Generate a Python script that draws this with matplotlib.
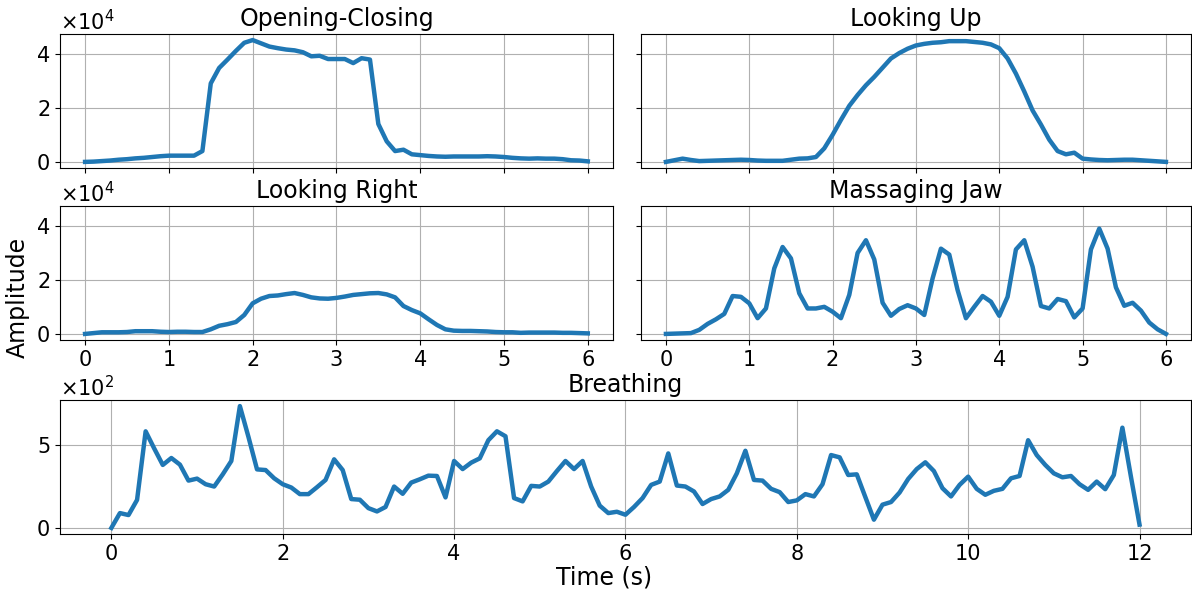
import numpy as np
import matplotlib
matplotlib.use("Agg")
import matplotlib.pyplot as plt

# sampled signals, 10 samples per second
t_short = np.linspace(0, 6, 61)
t_long = np.linspace(0, 12, 121)

# amplitudes in units of 1e4
opening_closing = [
    0.00, 0.01, 0.03, 0.05, 0.08, 0.10, 0.13, 0.15, 0.18, 0.21,
    0.23, 0.23, 0.23, 0.23, 0.40, 2.90, 3.47, 3.78, 4.10, 4.40,
    4.50, 4.38, 4.26, 4.20, 4.15, 4.12, 4.05, 3.90, 3.92, 3.80,
    3.80, 3.80, 3.65, 3.83, 3.78, 1.40, 0.76, 0.40, 0.45, 0.28,
    0.25, 0.22, 0.20, 0.19, 0.20, 0.20, 0.20, 0.20, 0.21, 0.20,
    0.18, 0.15, 0.13, 0.12, 0.13, 0.12, 0.12, 0.10, 0.06, 0.05,
    0.02,
]
looking_up = [
    0.00, 0.06, 0.12, 0.07, 0.03, 0.04, 0.05, 0.06, 0.07, 0.08,
    0.07, 0.05, 0.04, 0.04, 0.04, 0.08, 0.12, 0.13, 0.18, 0.50,
    1.00, 1.55, 2.07, 2.47, 2.83, 3.14, 3.48, 3.82, 4.02, 4.18,
    4.30, 4.36, 4.40, 4.42, 4.46, 4.46, 4.46, 4.43, 4.40, 4.34,
    4.20, 3.82, 3.26, 2.60, 1.90, 1.38, 0.82, 0.40, 0.28, 0.34,
    0.12, 0.09, 0.07, 0.06, 0.07, 0.08, 0.08, 0.06, 0.04, 0.02,
    0.00,
]
looking_right = [
    0.00, 0.03, 0.06, 0.06, 0.06, 0.07, 0.10, 0.10, 0.10, 0.08,
    0.07, 0.08, 0.08, 0.07, 0.07, 0.17, 0.30, 0.36, 0.44, 0.70,
    1.13, 1.30, 1.40, 1.42, 1.47, 1.51, 1.44, 1.35, 1.31, 1.30,
    1.33, 1.38, 1.44, 1.47, 1.50, 1.51, 1.46, 1.35, 1.03, 0.88,
    0.76, 0.54, 0.33, 0.17, 0.12, 0.11, 0.11, 0.10, 0.09, 0.07,
    0.06, 0.06, 0.04, 0.05, 0.05, 0.05, 0.05, 0.04, 0.04, 0.03,
    0.02,
]
massaging_jaw = [
    0.00, 0.01, 0.02, 0.03, 0.15, 0.37, 0.54, 0.74, 1.40, 1.37,
    1.13, 0.58, 0.94, 2.42, 3.21, 2.79, 1.50, 0.94, 0.94, 1.00,
    0.82, 0.58, 1.44, 2.99, 3.46, 2.75, 1.15, 0.67, 0.92, 1.06,
    0.94, 0.70, 2.05, 3.15, 2.93, 1.62, 0.58, 1.00, 1.40, 1.19,
    0.67, 1.37, 3.12, 3.46, 2.48, 1.03, 0.94, 1.29, 1.21, 0.61,
    0.94, 3.12, 3.89, 3.15, 1.72, 1.04, 1.15, 0.86, 0.42, 0.17,
    0.00,
]
# amplitudes in units of 1e2
breathing = [
    0.00, 0.90, 0.78, 1.70, 5.86, 4.82, 3.82, 4.24, 3.84, 2.87,
    2.99, 2.65, 2.51, 3.25, 4.06, 7.39, 5.52, 3.55, 3.51, 3.01,
    2.65, 2.45, 2.05, 2.05, 2.47, 2.91, 4.16, 3.51, 1.75, 1.71,
    1.20, 1.00, 1.27, 2.51, 2.07, 2.75, 2.95, 3.17, 3.15, 1.85,
    4.06, 3.57, 3.96, 4.22, 5.32, 5.86, 5.56, 1.81, 1.61, 2.55,
    2.51, 2.81, 3.45, 4.06, 3.57, 4.06, 2.51, 1.35, 0.90, 0.98,
    0.80, 1.27, 1.81, 2.61, 2.81, 4.52, 2.57, 2.51, 2.21, 1.45,
    1.75, 1.91, 2.31, 3.31, 4.68, 2.91, 2.87, 2.37, 2.17, 1.57,
    1.67, 2.05, 1.91, 2.65, 4.42, 4.28, 3.21, 3.25, 1.87, 0.50,
    1.41, 1.57, 2.15, 2.97, 3.57, 3.98, 3.45, 2.41, 1.91, 2.61,
    3.11, 2.37, 2.01, 2.25, 2.37, 3.01, 3.15, 5.32, 4.42, 3.82,
    3.31, 3.07, 3.15, 2.65, 2.31, 2.81, 2.35, 3.21, 6.08, 3.10,
    0.20,
]

gestures = ["Opening-Closing", "Looking Up", "Looking Right", "Massaging Jaw"]
gesture_data = [opening_closing, looking_up, looking_right, massaging_jaw]

plt.rcParams["font.size"] = 15
plt.rcParams["xtick.labelsize"] = 15
plt.rcParams["ytick.labelsize"] = 15

fig = plt.figure(figsize=(11.92, 5.94), dpi=100)

# axes boxes [left, bottom, width, height]
ax_tl = fig.add_axes([0.0503, 0.7172, 0.4639, 0.2256])
ax_tr = fig.add_axes([0.5377, 0.7172, 0.4614, 0.2256], sharex=ax_tl, sharey=ax_tl)
ax_ml = fig.add_axes([0.0503, 0.4276, 0.4639, 0.2256], sharex=ax_tl, sharey=ax_tl)
ax_mr = fig.add_axes([0.5377, 0.4276, 0.4614, 0.2256], sharex=ax_tl, sharey=ax_tl)
ax_b = fig.add_axes([0.0503, 0.1010, 0.9488, 0.2256])

small_axes = [ax_tl, ax_tr, ax_ml, ax_mr]
for ax, name, vals in zip(small_axes, gestures, gesture_data):
    ax.plot(t_short, np.array(vals) * 1e4, color="#1f77b4", linewidth=3.2)
    ax.set_title(name, fontsize=17)
    ax.grid(True)
    ax.ticklabel_format(axis="y", style="sci", scilimits=(0, 0), useMathText=True)

ax_tl.set_xticks(range(0, 7))
ax_tl.set_yticks([0, 2e4, 4e4])
for ax in [ax_tl, ax_tr]:
    ax.tick_params(labelbottom=False)
for ax in [ax_tr, ax_mr]:
    ax.tick_params(labelleft=False)

ax_b.plot(t_long, np.array(breathing) * 1e2, color="#1f77b4", linewidth=3.2)
ax_b.set_title("Breathing", fontsize=17)
ax_b.grid(True)
ax_b.set_xticks(range(0, 13, 2))
ax_b.set_yticks([0, 500])
ax_b.ticklabel_format(axis="y", style="sci", scilimits=(0, 0), useMathText=True)

fig.text(0.015, 0.5, "Amplitude", rotation=90, ha="center", va="center", fontsize=17)
fig.text(0.507, 0.027, "Time (s)", ha="center", va="center", fontsize=17)

fig.savefig("out.png", dpi=100)
